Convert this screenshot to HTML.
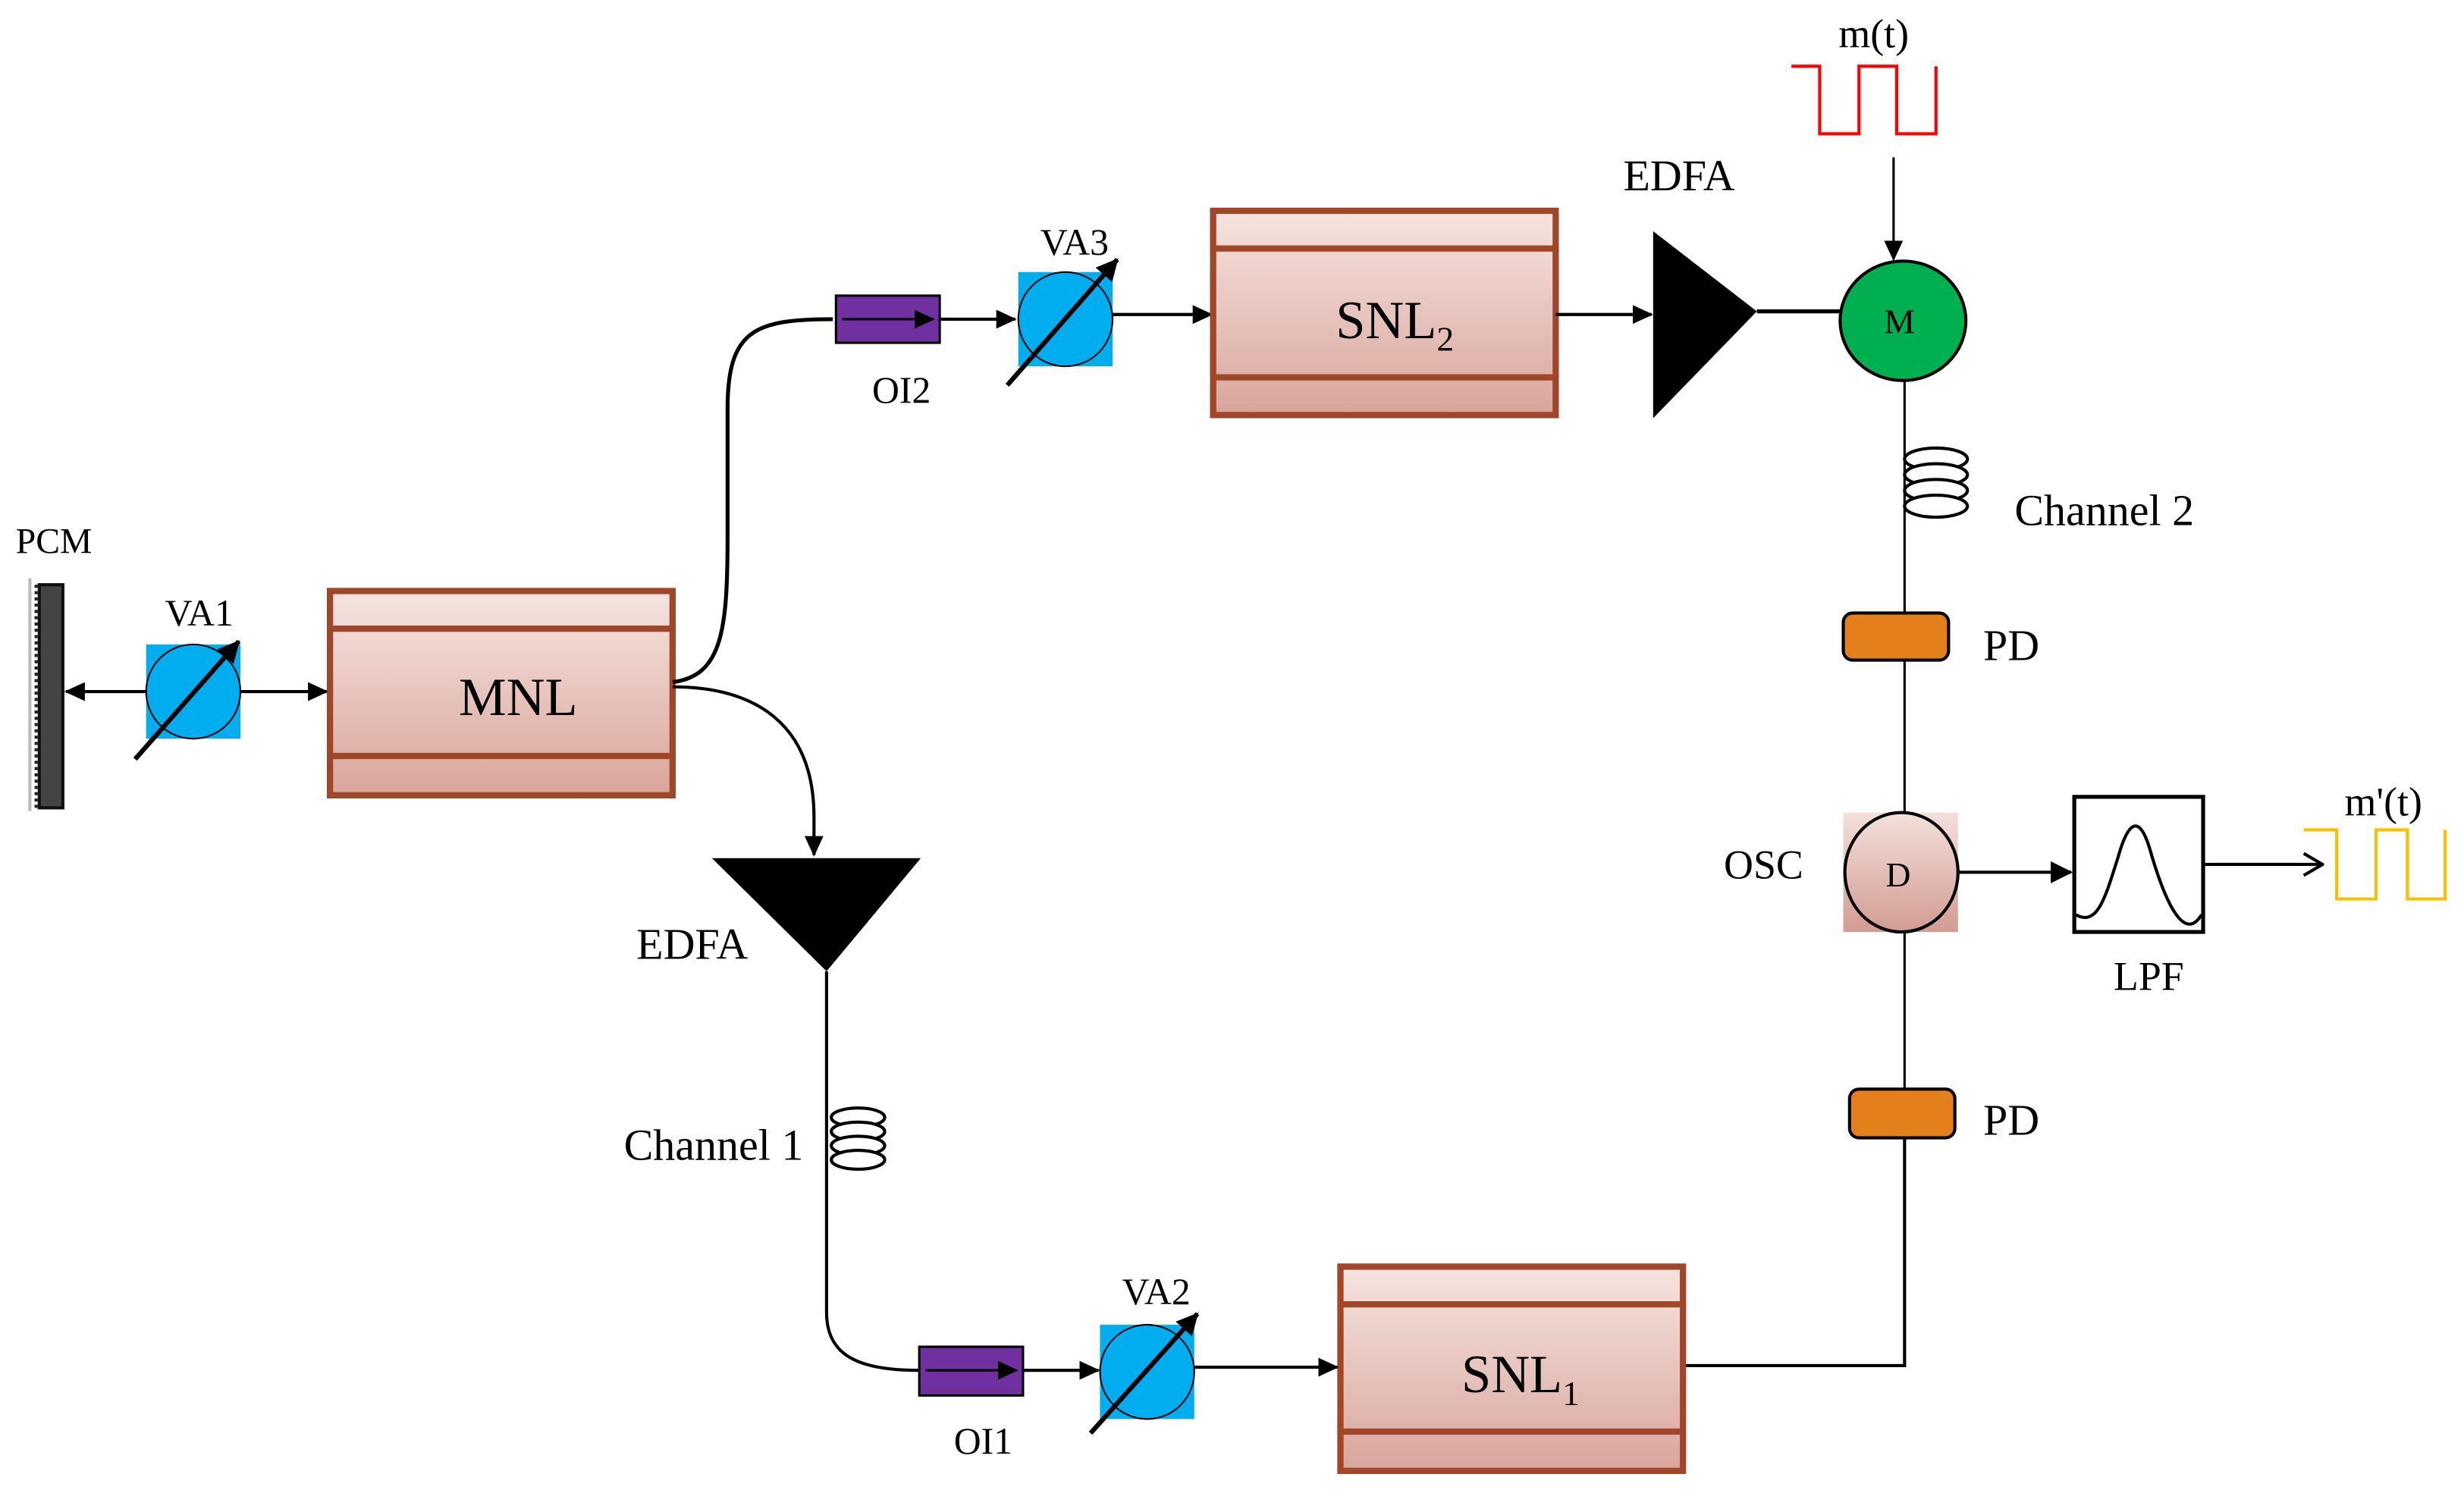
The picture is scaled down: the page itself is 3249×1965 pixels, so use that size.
<!DOCTYPE html>
<html><head><meta charset="utf-8"><style>
html,body{margin:0;padding:0;background:#fff;}
svg{display:block;}
text{font-family:"Liberation Serif",serif;fill:#000;}
</style></head><body>
<svg width="3249" height="1965" viewBox="0 0 1568 948" xmlns="http://www.w3.org/2000/svg">
<defs>
<linearGradient id="bx" x1="0" y1="0" x2="0" y2="1">
<stop offset="0" stop-color="#f6e4e0"/><stop offset="1" stop-color="#d8a59b"/></linearGradient>
<linearGradient id="osc" x1="0" y1="0" x2="0" y2="1">
<stop offset="0" stop-color="#f4e0dc"/><stop offset="1" stop-color="#d29c92"/></linearGradient>
<marker id="a" markerWidth="13" markerHeight="12" refX="12" refY="6" orient="auto" markerUnits="userSpaceOnUse"><path d="M0,0 L13,6 L0,12 z" fill="#000"/></marker>
<marker id="ab" markerWidth="14" markerHeight="14" refX="13" refY="7" orient="auto" markerUnits="userSpaceOnUse"><path d="M0,0 L14,7 L0,14 z" fill="#000"/></marker>
<marker id="ao" markerWidth="14" markerHeight="16" refX="13" refY="8" orient="auto" markerUnits="userSpaceOnUse"><path d="M1,1 L13,8 L1,15" fill="none" stroke="#000" stroke-width="2"/></marker>
</defs>

<!-- PCM -->
<text x="10" y="352" font-size="23">PCM</text>
<rect x="18" y="368" width="2" height="148" fill="#bbb"/>
<rect x="25" y="372" width="15" height="142" fill="#444" stroke="#111" stroke-width="2"/>
<line x1="23" y1="372" x2="23" y2="514" stroke="#222" stroke-width="2" stroke-dasharray="2,2"/>

<!-- VA1 -->
<line x1="93" y1="440" x2="42" y2="440" stroke="#000" stroke-width="2" marker-end="url(#a)"/>
<line x1="153" y1="440" x2="208" y2="440" stroke="#000" stroke-width="2" marker-end="url(#a)"/>
<rect x="93" y="410" width="60" height="60" fill="#00aeef"/>
<ellipse cx="123" cy="440" rx="30" ry="30" fill="none" stroke="#000" stroke-width="1"/>
<line x1="86" y1="483" x2="152" y2="408" stroke="#000" stroke-width="3" marker-end="url(#ab)"/>
<text x="105" y="398" font-size="24">VA1</text>

<!-- MNL -->
<g stroke="#a0472a" stroke-width="4">
<rect x="210" y="376" width="218" height="130" fill="url(#bx)"/>
<line x1="210" y1="400" x2="428" y2="400"/><line x1="210" y1="481" x2="428" y2="481"/>
</g>
<text x="292" y="455" font-size="34">MNL</text>

<!-- top path -->
<path d="M428,434 C460,430 463,400 463,340 L463,260 C463,210 480,203 530,203" fill="none" stroke="#000" stroke-width="2.5"/>
<rect x="532" y="188" width="66" height="30" fill="#7030a0" stroke="#000" stroke-width="1.5"/>
<line x1="536" y1="203" x2="594" y2="203" stroke="#000" stroke-width="1.5" marker-end="url(#a)"/>
<text x="555" y="256" font-size="24">OI2</text>
<line x1="598" y1="203" x2="646" y2="203" stroke="#000" stroke-width="2" marker-end="url(#a)"/>
<rect x="648" y="173" width="60" height="60" fill="#00aeef"/>
<ellipse cx="678" cy="203" rx="30" ry="30" fill="none" stroke="#000" stroke-width="1"/>
<line x1="641" y1="245" x2="711" y2="165" stroke="#000" stroke-width="3" marker-end="url(#ab)"/>
<text x="662" y="162" font-size="24">VA3</text>
<line x1="708" y1="200" x2="771" y2="200" stroke="#000" stroke-width="2" marker-end="url(#a)"/>

<!-- SNL2 -->
<g stroke="#a0472a" stroke-width="4">
<rect x="772" y="134" width="218" height="130" fill="url(#bx)"/>
<line x1="772" y1="158" x2="990" y2="158"/><line x1="772" y1="240" x2="990" y2="240"/>
</g>
<text x="850" y="215" font-size="34">SNL<tspan font-size="22" dy="8">2</tspan></text>
<line x1="990" y1="200" x2="1051" y2="200" stroke="#000" stroke-width="2" marker-end="url(#a)"/>
<polygon points="1052,147 1052,266 1118,198" fill="#000"/>
<text x="1033" y="121" font-size="28">EDFA</text>
<line x1="1118" y1="198" x2="1172" y2="198" stroke="#000" stroke-width="2.5"/>

<!-- M -->
<path d="M1140,42 H1158 V85 H1183 V42 H1207 V85 H1232 V42" fill="none" stroke="#f00" stroke-width="2"/>
<text x="1170" y="30" font-size="26">m(t)</text>
<line x1="1205" y1="100" x2="1205" y2="165" stroke="#000" stroke-width="1.5" marker-end="url(#a)"/>
<ellipse cx="1211" cy="204" rx="40" ry="38" fill="#00b050" stroke="#000" stroke-width="2"/>
<text x="1199" y="212" font-size="22">M</text>

<!-- right vertical -->
<line x1="1212" y1="242" x2="1212" y2="390" stroke="#000" stroke-width="1.5"/>
<g fill="#fff" stroke="#000" stroke-width="2">
<ellipse cx="1232" cy="292" rx="20" ry="7"/><ellipse cx="1232" cy="302" rx="20" ry="7"/>
<ellipse cx="1232" cy="312" rx="20" ry="7"/><ellipse cx="1232" cy="322" rx="20" ry="7"/>
</g>
<text x="1282" y="334" font-size="28">Channel 2</text>
<rect x="1173" y="390" width="67" height="30" rx="6" fill="#e3801c" stroke="#000" stroke-width="2"/>
<text x="1262" y="420" font-size="28">PD</text>
<line x1="1212" y1="420" x2="1212" y2="518" stroke="#000" stroke-width="1.5"/>

<!-- OSC -->
<rect x="1173" y="517" width="73" height="76" fill="url(#osc)"/>
<ellipse cx="1210" cy="555" rx="36" ry="38" fill="url(#osc)" stroke="#000" stroke-width="2"/>
<text x="1200" y="564" font-size="22">D</text>
<text x="1097" y="559" font-size="26">OSC</text>
<line x1="1246" y1="555" x2="1318" y2="555" stroke="#000" stroke-width="2" marker-end="url(#ab)"/>
<rect x="1320" y="507" width="82" height="86" fill="#fff" stroke="#000" stroke-width="2.5"/>
<path d="M1321,582 C1335,590 1340,570 1348,545 C1355,520 1362,520 1368,540 C1378,575 1390,600 1401,582" fill="none" stroke="#000" stroke-width="2"/>
<text x="1345" y="630" font-size="26">LPF</text>
<line x1="1402" y1="550" x2="1478" y2="550" stroke="#000" stroke-width="2" marker-end="url(#ao)"/>
<path d="M1466,528 H1487 V572 H1512 V528 H1532 V572 H1556 V528" fill="none" stroke="#f5c000" stroke-width="2"/>
<text x="1492" y="519" font-size="26">m'(t)</text>
<line x1="1212" y1="593" x2="1212" y2="693" stroke="#000" stroke-width="1.5"/>
<rect x="1177" y="693" width="67" height="31" rx="6" fill="#e3801c" stroke="#000" stroke-width="2"/>
<text x="1262" y="722" font-size="28">PD</text>
<path d="M1212,724 V869 H1071" fill="none" stroke="#000" stroke-width="2"/>

<!-- SNL1 -->
<g stroke="#a0472a" stroke-width="4">
<rect x="853" y="806" width="218" height="130" fill="url(#bx)"/>
<line x1="853" y1="830" x2="1071" y2="830"/><line x1="853" y1="911" x2="1071" y2="911"/>
</g>
<text x="930" y="886" font-size="34">SNL<tspan font-size="22" dy="8">1</tspan></text>

<!-- bottom path -->
<path d="M428,437 C480,437 518,460 518,520 L518,544" fill="none" stroke="#000" stroke-width="2" marker-end="url(#a)"/>
<polygon points="453,546 586,546 526,618" fill="#000"/>
<text x="405" y="610" font-size="28">EDFA</text>
<path d="M526,618 L526,835 C526,862 545,872 585,872" fill="none" stroke="#000" stroke-width="2"/>
<g fill="#fff" stroke="#000" stroke-width="2">
<ellipse cx="546" cy="711" rx="17" ry="6"/><ellipse cx="546" cy="720" rx="17" ry="6"/>
<ellipse cx="546" cy="729" rx="17" ry="6"/><ellipse cx="546" cy="738" rx="17" ry="6"/>
</g>
<text x="397" y="738" font-size="28">Channel 1</text>
<rect x="585" y="857" width="66" height="31" fill="#7030a0" stroke="#000" stroke-width="1.5"/>
<line x1="589" y1="872" x2="647" y2="872" stroke="#000" stroke-width="1.5" marker-end="url(#a)"/>
<text x="607" y="925" font-size="24">OI1</text>
<line x1="651" y1="872" x2="699" y2="872" stroke="#000" stroke-width="2" marker-end="url(#a)"/>
<rect x="700" y="843" width="60" height="60" fill="#00aeef"/>
<ellipse cx="730" cy="873" rx="30" ry="30" fill="none" stroke="#000" stroke-width="1"/>
<line x1="694" y1="912" x2="762" y2="836" stroke="#000" stroke-width="3" marker-end="url(#ab)"/>
<text x="714" y="830" font-size="24">VA2</text>
<line x1="760" y1="870" x2="851" y2="870" stroke="#000" stroke-width="2" marker-end="url(#a)"/>
</svg>
</body></html>
